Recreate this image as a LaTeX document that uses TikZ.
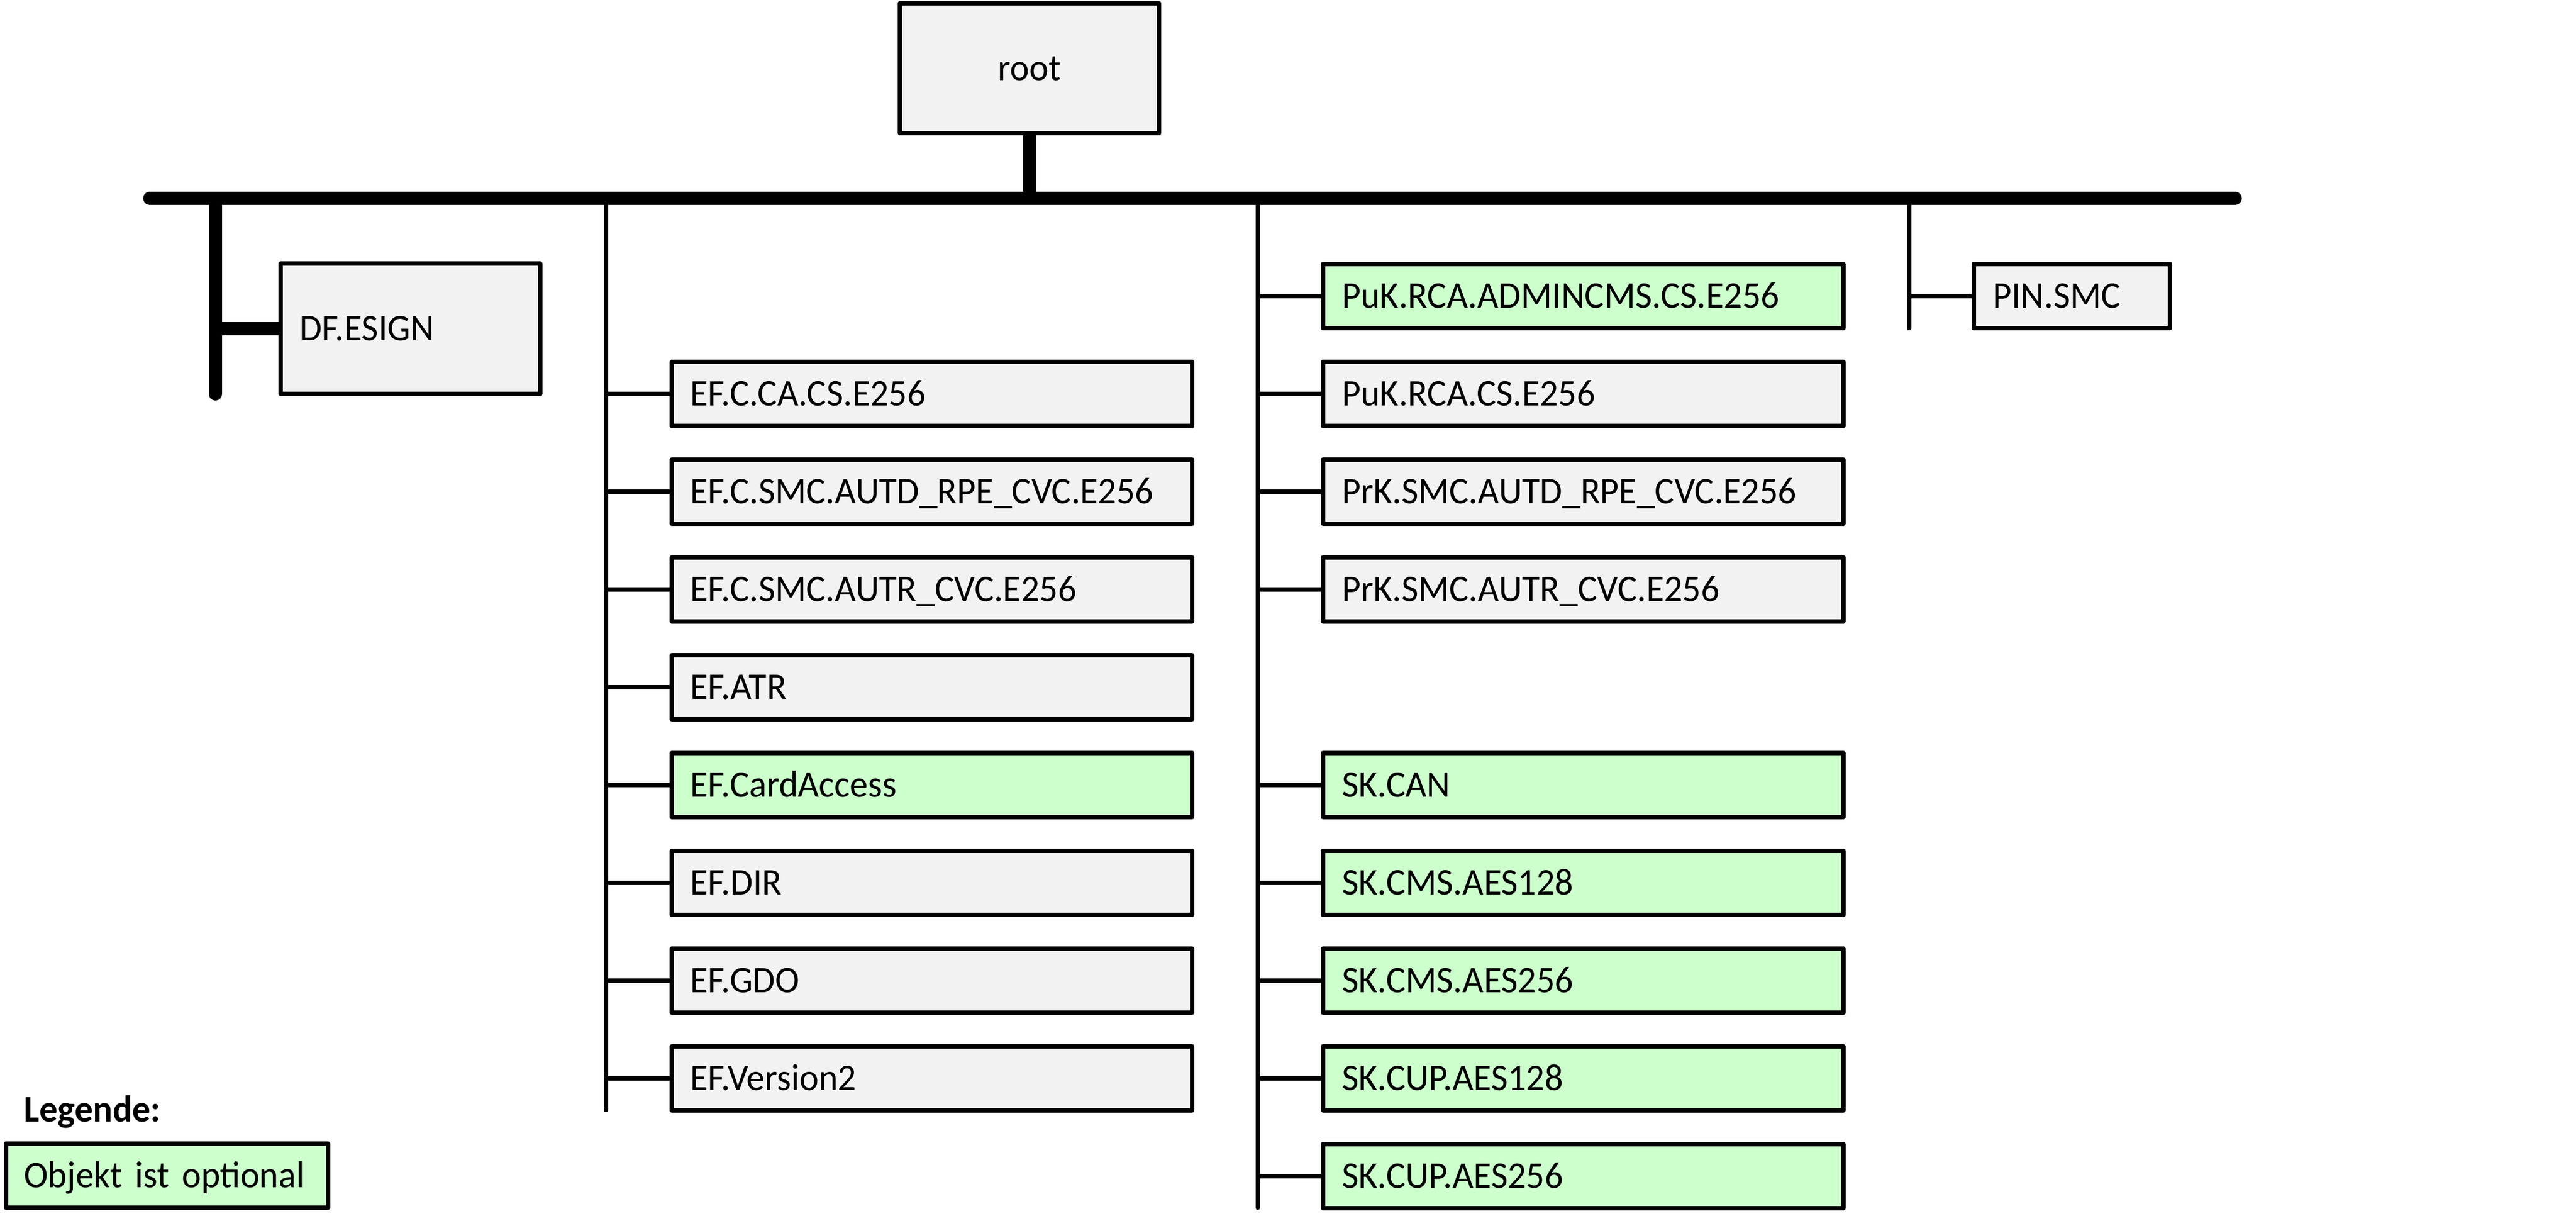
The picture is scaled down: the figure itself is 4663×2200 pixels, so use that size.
\documentclass[tikz,border=0pt]{standalone}
\usepackage{fontspec}
\setmainfont{Carlito}[FakeStretch=0.97]
\usetikzlibrary{backgrounds}
\definecolor{boxgray}{HTML}{F2F2F2}
\definecolor{optgreen}{HTML}{CCFFCC}
\tikzset{
  lbl/.style={font=\fontsize{17pt}{20pt}\selectfont},
  obj/.style={lbl, draw=black, line width=2pt, line join=round, fill=boxgray,
    inner xsep=8.5pt, inner ysep=0pt, text height=10.74pt, text depth=0pt, align=left},
  colbox/.style={obj, text width=218.5pt, minimum height=29.125pt},
  rootbox/.style={obj, align=center, minimum width=117.25pt, minimum height=58.75pt, inner xsep=0pt},
  dfbox/.style={obj, text width=100.5pt, minimum height=59pt},
  pinbox/.style={obj, text width=71.75pt, minimum height=29.125pt},
  legbox/.style={obj, text width=129.75pt, minimum height=29pt, inner xsep=8pt},
  opt/.style={fill=optgreen},
  thinline/.style={line width=2pt, line cap=round},
  thickline/.style={line width=6pt, line cap=round},
}
\begin{document}
\begin{tikzpicture}[x=0.25pt,y=-0.25pt]
\useasboundingbox (0,0) rectangle (4663,2200);
% bus and branch coordinates
\coordinate (busL) at (271,359);
\coordinate (busR) at (4046,359);
\coordinate (dfTop) at (390,359);
\coordinate (dfBot) at (390,713);
\coordinate (c2Top) at (1097,359);
\coordinate (c2Bot) at (1097,2009);
\coordinate (c3Top) at (2276.5,359);
\coordinate (c3Bot) at (2276.5,2186);
\coordinate (c4Top) at (3455.6,359);
\coordinate (c4Bot) at (3455.6,594);

% nodes
\node[rootbox] (root) at (1863.5,123.5) {root};
\node[dfbox] (df) at (743,595) {\mbox{DF.ESIGN}};

\node[colbox] (a0) at (1686.6,712.75) {\mbox{EF.C.CA.CS.E256}};
\node[colbox] (a1) at (1686.6,889.75) {\mbox{EF.C.SMC.AUTD\_RPE\_CVC.E256}};
\node[colbox] (a2) at (1686.6,1066.75) {\mbox{EF.C.SMC.AUTR\_CVC.E256}};
\node[colbox] (a3) at (1686.6,1243.75) {\mbox{EF.ATR}};
\node[colbox,opt] (a4) at (1686.6,1420.75) {\mbox{EF.CardAccess}};
\node[colbox] (a5) at (1686.6,1597.75) {\mbox{EF.DIR}};
\node[colbox] (a6) at (1686.6,1774.75) {\mbox{EF.GDO}};
\node[colbox] (a7) at (1686.6,1951.75) {\mbox{EF.Version2}};

\node[colbox,opt] (b0) at (2866,535.75) {\mbox{PuK.RCA.ADMINCMS.CS.E256}};
\node[colbox] (b1) at (2866,712.75) {\mbox{PuK.RCA.CS.E256}};
\node[colbox] (b2) at (2866,889.75) {\mbox{PrK.SMC.AUTD\_RPE\_CVC.E256}};
\node[colbox] (b3) at (2866,1066.75) {\mbox{PrK.SMC.AUTR\_CVC.E256}};
\node[colbox,opt] (b4) at (2866,1420.75) {\mbox{SK.CAN}};
\node[colbox,opt] (b5) at (2866,1597.75) {\mbox{SK.CMS.AES128}};
\node[colbox,opt] (b6) at (2866,1774.75) {\mbox{SK.CMS.AES256}};
\node[colbox,opt] (b7) at (2866,1951.75) {\mbox{SK.CUP.AES128}};
\node[colbox,opt] (b8) at (2866,2128.75) {\mbox{SK.CUP.AES256}};

\node[pinbox] (pin) at (3750.5,535.75) {\mbox{PIN.SMC}};

\node[lbl, anchor=base west, inner sep=0pt, font=\fontsize{17pt}{20pt}\selectfont\bfseries] (legtitle) at (43,2030) {Legende:};
\node[legbox,opt] (leg) at (302.5,2128) {\mbox{Objekt ist optional}};

% connectors
\begin{scope}[on background layer]
  \draw[thickline] (busL) -- (busR);
  \draw[thickline, line cap=butt] (root.south) -- (root.south |- busL);
  \draw[thickline] (dfTop) -- (dfBot);
  \draw[thickline, line cap=butt] (df.west -| dfTop) -- (df.west);
  \draw[thinline] (c2Top) -- (c2Bot);
  \draw[thinline] (c3Top) -- (c3Bot);
  \draw[thinline] (c4Top) -- (c4Bot);
  \foreach \n in {a0,a1,a2,a3,a4,a5,a6,a7}
    \draw[thinline, line cap=butt] (\n.west -| c2Top) -- (\n.west);
  \foreach \n in {b0,b1,b2,b3,b4,b5,b6,b7,b8}
    \draw[thinline, line cap=butt] (\n.west -| c3Top) -- (\n.west);
  \draw[thinline, line cap=butt] (pin.west -| c4Top) -- (pin.west);
\end{scope}
\end{tikzpicture}
\end{document}
